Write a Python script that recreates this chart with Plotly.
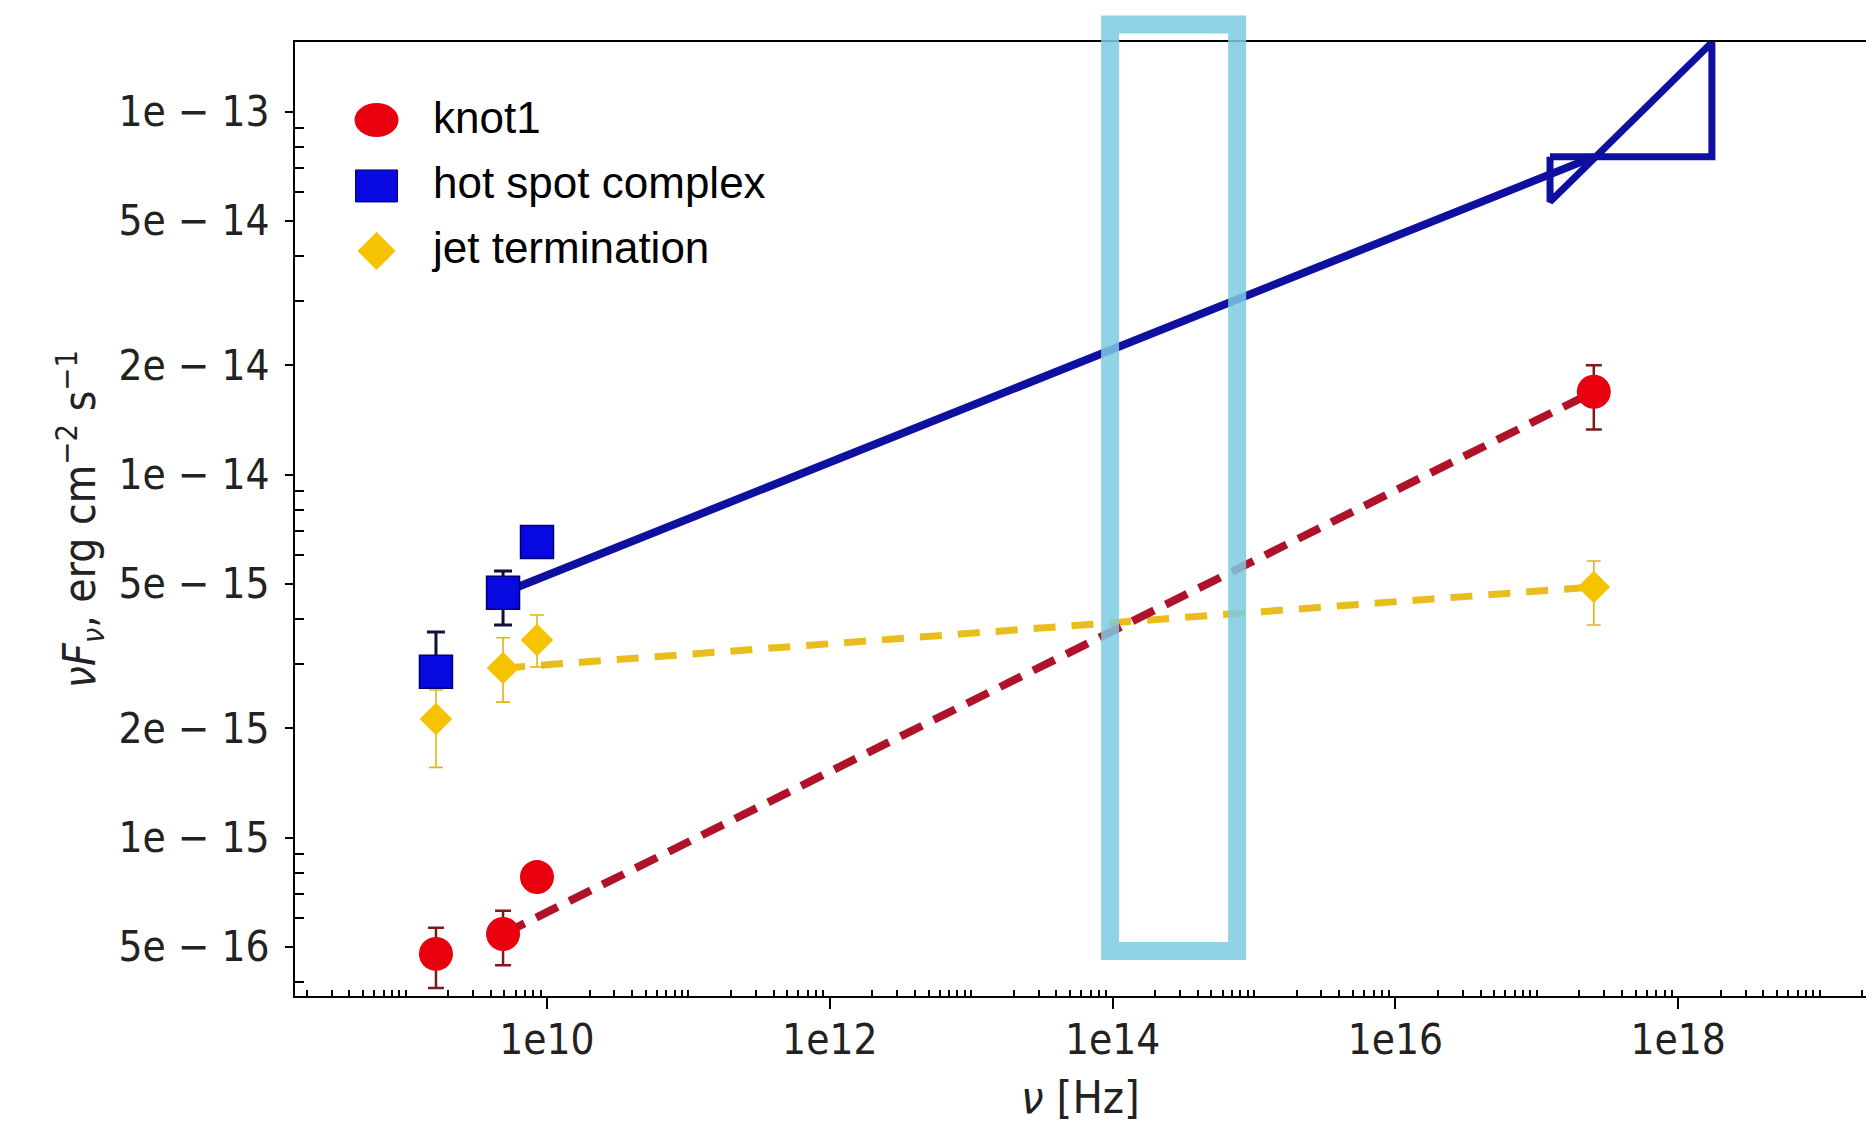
import numpy as np
import plotly.graph_objects as go

# ---------------- data ----------------
knot1_nu = [1.64e9, 4.89e9, 8.5e9, 2.53e17]
knot1_flux = [4.78e-16, 5.42e-16, 7.78e-16, 1.69e-14]
knot1_hi = [5.64e-16, 6.28e-16, 7.9e-16, 2.0e-14]
knot1_lo = [3.85e-16, 4.45e-16, 7.66e-16, 1.33e-14]

hs_nu = [1.64e9, 4.89e9, 8.5e9]
hs_flux = [2.86e-15, 4.72e-15, 6.52e-15]
hs_hi = [3.68e-15, 5.42e-15, 6.6e-15]
hs_lo = [2.67e-15, 3.85e-15, 6.44e-15]

jt_nu = [1.64e9, 4.89e9, 8.5e9, 2.53e17]
jt_flux = [2.12e-15, 2.93e-15, 3.5e-15, 4.9e-15]
jt_hi = [2.55e-15, 3.55e-15, 4.1e-15, 5.78e-15]
jt_lo = [1.56e-15, 2.36e-15, 2.95e-15, 3.85e-15]

# power-law connections
knot1_fit_nu = [4.89e9, 2.53e17]
knot1_fit_flux = [5.42e-16, 1.69e-14]
hs_fit_nu = [4.89e9, 2.53e17]
hs_fit_flux = [4.72e-15, 7.5e-14]
jt_fit_nu = [4.89e9, 2.53e17]
jt_fit_flux = [2.93e-15, 4.9e-15]

# X-ray bow-tie of the hot spot complex
bowtie_nu = [1.24e17, 1.24e17, 1.73e18, 1.73e18, 1.24e17]
bowtie_flux = [7.5e-14, 5.64e-14, 1.55e-13, 7.5e-14, 7.5e-14]

# highlighted optical band
band_nu = [9.6e13, 7.6e14]

# series names
names = ["knot1", "hot spot complex", "jet termination"]

# axis ticks
x_tickvals = [1e10, 1e12, 1e14, 1e16, 1e18]
x_ticktext = ["1e10", "1e12", "1e14", "1e16", "1e18"]
y_tickvals = [1e-13, 5e-14, 2e-14, 1e-14, 5e-15, 2e-15, 1e-15, 5e-16]
y_ticktext = ["1e \u2212 13", "5e \u2212 14", "2e \u2212 14", "1e \u2212 14",
              "5e \u2212 15", "2e \u2212 15", "1e \u2212 15", "5e \u2212 16"]

XRANGE = [8.218, 19.328]
YRANGE = [-15.4366, -12.8085]

RED = "#e8000e"
RED_LINE = "#b0122a"
BLUE = "#0808e0"
BLUE_LINE = "#0f0fa0"
GOLD = "#f5c300"
GOLD_LINE = "#e9bd1c"

FONT_T = "DejaVu Sans Condensed, DejaVu Sans"
TICKFONT = dict(family=FONT_T, size=42, color="#222222")


def err(vals, hi, lo):
    plus = [h - v for v, h in zip(vals, hi)]
    minus = [v - l for v, l in zip(vals, lo)]
    return plus, minus


fig = go.Figure()

# connecting lines
fig.add_trace(go.Scatter(x=jt_fit_nu, y=jt_fit_flux, mode="lines", showlegend=False,
                         line=dict(color=GOLD_LINE, width=7, dash="22px,16px")))
fig.add_trace(go.Scatter(x=knot1_fit_nu, y=knot1_fit_flux, mode="lines", showlegend=False,
                         line=dict(color=RED_LINE, width=8, dash="24px,13px")))
fig.add_trace(go.Scatter(x=hs_fit_nu, y=hs_fit_flux, mode="lines", showlegend=False,
                         line=dict(color=BLUE_LINE, width=8)))
fig.add_trace(go.Scatter(x=bowtie_nu, y=bowtie_flux, mode="lines", showlegend=False,
                         line=dict(color=BLUE_LINE, width=7)))

# data points
p, m = err(jt_flux, jt_hi, jt_lo)
fig.add_trace(go.Scatter(x=jt_nu, y=jt_flux, mode="markers", name=names[2], showlegend=False,
                         marker=dict(symbol="diamond", size=25, color=GOLD, line=dict(width=0)),
                         error_y=dict(type="data", symmetric=False, array=p, arrayminus=m,
                                      color="#e0b418", thickness=1.6, width=7)))
p, m = err(hs_flux, hs_hi, hs_lo)
fig.add_trace(go.Scatter(x=hs_nu, y=hs_flux, mode="markers", name=names[1], showlegend=False,
                         marker=dict(symbol="square", size=33, color=BLUE,
                                     line=dict(width=1.5, color="#000070")),
                         error_y=dict(type="data", symmetric=False, array=p, arrayminus=m,
                                      color="#10103a", thickness=3, width=9)))
p, m = err(knot1_flux, knot1_hi, knot1_lo)
fig.add_trace(go.Scatter(x=knot1_nu, y=knot1_flux, mode="markers", name=names[0], showlegend=False,
                         marker=dict(symbol="circle", size=34, color=RED, line=dict(width=0)),
                         error_y=dict(type="data", symmetric=False, array=p, arrayminus=m,
                                      color="#7a1a1a", thickness=2.5, width=8)))

# legend entries (text from the native legend; large symbols drawn as shapes below)
for i, nm in enumerate(names):
    fig.add_trace(go.Scatter(x=[None], y=[None], mode="markers", name=nm,
                             legendgroup=f"g{i}", legendrank=i + 1,
                             marker=dict(size=2, color="rgba(0,0,0,0)")))

leg_x = 0.0519
leg_y = [0.9182, 0.8491, 0.7809]
fig.add_shape(type="circle", xref="paper", yref="paper", xsizemode="pixel", ysizemode="pixel",
              xanchor=leg_x, yanchor=leg_y[0], x0=-22, x1=22, y0=-17, y1=17,
              fillcolor=RED, line=dict(width=0), layer="above")
fig.add_shape(type="rect", xref="paper", yref="paper", xsizemode="pixel", ysizemode="pixel",
              xanchor=leg_x, yanchor=leg_y[1], x0=-21, x1=21, y0=-16, y1=16,
              fillcolor=BLUE, line=dict(width=1, color="#000070"), layer="above")
fig.add_shape(type="path", xref="paper", yref="paper", xsizemode="pixel", ysizemode="pixel",
              xanchor=leg_x, yanchor=leg_y[2], path="M0,19 L19,0 L0,-19 L-19,0 Z",
              fillcolor=GOLD, line=dict(width=0), layer="above")

# highlighted band (outline only)
fig.add_shape(type="rect", xref="x", yref="paper",
              x0=band_nu[0], x1=band_nu[1], y0=0.0472, y1=1.0183,
              line=dict(color="rgba(125,203,226,0.85)", width=18),
              fillcolor="rgba(0,0,0,0)", layer="above")

# minor tick positions
x_minor = [k * 10.0 ** n for n in range(8, 20) for k in range(1, 10)
           if not (k == 1 and n % 2 == 0)]
y_minor = [k * 10.0 ** n for n in range(-17, -12) for k in range(1, 10)
           if k not in (1, 2, 5)]

fig.update_layout(
    width=1866, height=1124,
    margin=dict(l=295, r=0, t=42, b=128),
    paper_bgcolor="white", plot_bgcolor="white",
    showlegend=True,
    legend=dict(x=0.056, y=0.959, xanchor="left", yanchor="top",
                bgcolor="rgba(255,255,255,0)", borderwidth=0,
                font=dict(family="Liberation Sans, Arial", size=44, color="black"),
                tracegroupgap=4.5, itemwidth=40),
    xaxis=dict(type="log", range=XRANGE, showgrid=False, zeroline=False,
               showline=True, linecolor="black", linewidth=2, mirror=True,
               tickmode="array", tickvals=x_tickvals, ticktext=x_ticktext,
               ticks="outside", ticklen=11, tickwidth=2, tickcolor="black",
               ticklabelstandoff=-5, tickfont=TICKFONT,
               minor=dict(tickmode="array", tickvals=x_minor, ticks="inside",
                          ticklen=6, tickwidth=1.5, tickcolor="black", showgrid=False),
               title=dict(text="<i>ν</i> [Hz]", standoff=19,
                          font=dict(family=FONT_T, size=45, color="#222222"))),
    yaxis=dict(type="log", range=YRANGE, showgrid=False, zeroline=False,
               showline=True, linecolor="black", linewidth=2, mirror=False,
               tickmode="array", tickvals=y_tickvals, ticktext=y_ticktext,
               ticks="outside", ticklen=8, tickwidth=2, tickcolor="black",
               ticklabelstandoff=7, tickfont=TICKFONT,
               minor=dict(tickmode="array", tickvals=y_minor, ticks="inside",
                          ticklen=9, tickwidth=1.5, tickcolor="black", showgrid=False),
               title=dict(text="<i>ν</i><i>F</i><sub><i>ν</i></sub>, erg cm<sup>−2</sup> s<sup>−1</sup>",
                          standoff=9,
                          font=dict(family=FONT_T, size=44, color="#222222"))),
)

fig.write_html("out.html", post_script="document.body.style.margin='0';",
               config={"displayModeBar": False})
